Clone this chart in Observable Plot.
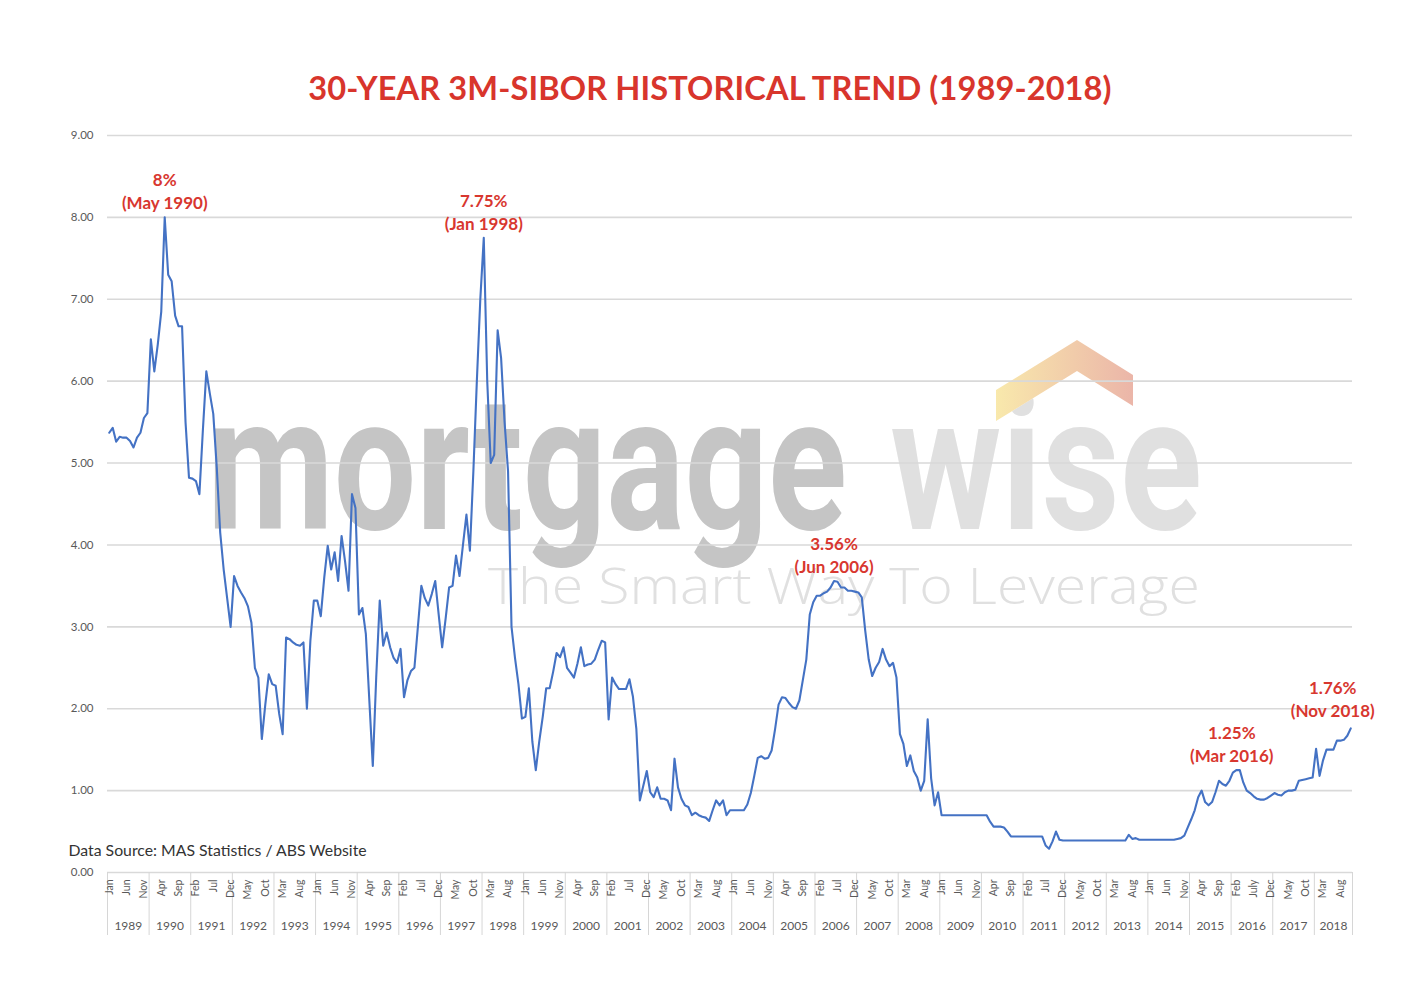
<!DOCTYPE html>
<html>
<head>
<meta charset="utf-8">
<script src="https://cdn.jsdelivr.net/npm/d3@7"></script>
<script src="https://cdn.jsdelivr.net/npm/@observablehq/plot@0.6"></script>
<style>
  html, body { margin: 0; padding: 0; background: #ffffff; }
  #wrap { width: 1420px; height: 986px; position: relative; overflow: hidden; background: #fff; }
  #title { height: 50px; padding-top: 68px; line-height: 40px; text-align: center;
           font-family: Lato, "Open Sans", sans-serif; font-weight: 700; font-size: 32.6px;
           color: #d8352c; letter-spacing: 0.1px; }
</style>
</head>
<body>
<div id="wrap">
  <div id="title">30-YEAR 3M-SIBOR HISTORICAL TREND (1989-2018)</div>
  <div id="chart"></div>
</div>
<script>
// ---------------- data ----------------
const startYear = 1989;
const years = d3.range(1989, 2019);
const monthAbbr = ["Jan","Feb","Mar","Apr","May","Jun","Jul","Aug","Sep","Oct","Nov","Dec"];
const monthLabelOverrides = {330: "July"}; // Jul 2016 is spelled "July" in the source
const yTicks = [0, 1, 2, 3, 4, 5, 6, 7, 8, 9];
const dataSource = ["Data Source: MAS Statistics / ABS Website"];

// monthly 3M-SIBOR (%), Jan 1989 - Nov 2018
const sibor = [
  5.37, 5.43, 5.26, 5.32, 5.31, 5.31, 5.27, 5.19, 5.31, 5.37, 5.55, 5.61, // 1989
  6.51, 6.12, 6.45, 6.85, 8.00, 7.30, 7.22, 6.80, 6.67, 6.67, 5.50, 4.82, // 1990
  4.81, 4.78, 4.62, 5.40, 6.12, 5.85, 5.60, 4.95, 4.15, 3.70, 3.35, 3.00, // 1991
  3.62, 3.50, 3.42, 3.35, 3.25, 3.05, 2.50, 2.38, 1.63, 2.05, 2.42, 2.30, // 1992
  2.28, 1.94, 1.69, 2.87, 2.85, 2.81, 2.78, 2.77, 2.81, 2.00, 2.83, 3.32, // 1993
  3.32, 3.13, 3.60, 3.99, 3.70, 3.91, 3.56, 4.11, 3.80, 3.44, 4.62, 4.45, // 1994
  3.15, 3.23, 2.91, 2.10, 1.30, 2.40, 3.32, 2.77, 2.93, 2.75, 2.62, 2.56, // 1995
  2.73, 2.14, 2.35, 2.46, 2.50, 3.00, 3.50, 3.35, 3.26, 3.40, 3.56, 3.15, // 1996
  2.75, 3.10, 3.48, 3.50, 3.87, 3.62, 4.00, 4.37, 3.93, 4.90, 6.00, 7.00, // 1997
  7.75, 6.00, 5.00, 5.10, 6.62, 6.28, 5.50, 4.90, 3.00, 2.62, 2.30, 1.88, // 1998
  1.90, 2.25, 1.60, 1.25, 1.60, 1.90, 2.25, 2.25, 2.45, 2.68, 2.63, 2.75, // 1999
  2.50, 2.44, 2.38, 2.55, 2.75, 2.52, 2.54, 2.55, 2.60, 2.72, 2.83, 2.81, // 2000
  1.87, 2.38, 2.30, 2.24, 2.24, 2.24, 2.36, 2.15, 1.75, 0.88, 1.06, 1.24, // 2001
  0.98, 0.92, 1.04, 0.90, 0.90, 0.88, 0.76, 1.39, 1.04, 0.90, 0.82, 0.80, // 2002
  0.70, 0.73, 0.70, 0.68, 0.67, 0.63, 0.76, 0.88, 0.82, 0.88, 0.70, 0.76, // 2003
  0.76, 0.76, 0.76, 0.76, 0.83, 0.97, 1.18, 1.40, 1.42, 1.39, 1.40, 1.49, // 2004
  1.75, 2.05, 2.14, 2.13, 2.07, 2.02, 2.00, 2.10, 2.35, 2.60, 3.15, 3.30, // 2005
  3.38, 3.38, 3.41, 3.43, 3.48, 3.56, 3.55, 3.48, 3.48, 3.44, 3.44, 3.43, // 2006
  3.42, 3.36, 2.95, 2.60, 2.40, 2.50, 2.57, 2.73, 2.60, 2.52, 2.56, 2.38, // 2007
  1.69, 1.57, 1.30, 1.43, 1.24, 1.16, 1.00, 1.12, 1.87, 1.15, 0.82, 0.98, // 2008
  0.70, 0.70, 0.70, 0.70, 0.70, 0.70, 0.70, 0.70, 0.70, 0.70, 0.70, 0.70, // 2009
  0.70, 0.70, 0.62, 0.56, 0.56, 0.56, 0.55, 0.50, 0.44, 0.44, 0.44, 0.44, // 2010
  0.44, 0.44, 0.44, 0.44, 0.44, 0.44, 0.33, 0.29, 0.38, 0.50, 0.40, 0.39, // 2011
  0.39, 0.39, 0.39, 0.39, 0.39, 0.39, 0.39, 0.39, 0.39, 0.39, 0.39, 0.39, // 2012
  0.39, 0.39, 0.39, 0.39, 0.39, 0.39, 0.46, 0.41, 0.42, 0.40, 0.40, 0.40, // 2013
  0.40, 0.40, 0.40, 0.40, 0.40, 0.40, 0.40, 0.40, 0.41, 0.42, 0.45, 0.55, // 2014
  0.65, 0.76, 0.92, 1.00, 0.86, 0.82, 0.86, 0.98, 1.12, 1.08, 1.06, 1.12, // 2015
  1.22, 1.25, 1.25, 1.10, 1.00, 0.97, 0.93, 0.90, 0.89, 0.89, 0.91, 0.94, // 2016
  0.97, 0.95, 0.94, 0.98, 1.00, 1.00, 1.01, 1.12, 1.13, 1.14, 1.15, 1.16, // 2017
  1.51, 1.18, 1.37, 1.50, 1.50, 1.50, 1.61, 1.61, 1.62, 1.67, 1.76        // 2018 (Jan-Nov)
];

// peak annotations: year, month (1-12), label lines
const annYears  = [1990, 1998, 2006, 2016, 2018];
const annMonths = [5, 1, 6, 3, 11];
const annLabels = ["8%\n(May 1990)", "7.75%\n(Jan 1998)", "3.56%\n(Jun 2006)", "1.25%\n(Mar 2016)", "1.76%\n(Nov 2018)"];

// ---------------- derived tables ----------------
const series = sibor.map((v, i) => ({i, v}));
const n = sibor.length;
const annotations = annYears.map((y, k) => {
  const i = (y - startYear) * 12 + annMonths[k] - 1;
  return {i, v: sibor[i], label: annLabels[k], k};
});
const monthTicks = d3.range(0, n, 5);
const monthLabel = i => monthLabelOverrides[i] ?? monthAbbr[i % 12];
const yearBounds = years.map((y, k) => k * 12 - 0.5).concat([n - 0.5]);
const yearCenters = years.map((y, k) => (k * 12 - 0.5 + Math.min((k + 1) * 12, n) - 0.5) / 2);

const red = "#d8372f";
const grey = "#595959";

// decorative "mortgage wise" watermark behind the chart
function watermark() {
  const g = d3.create("svg:g").attr("pointer-events", "none").attr("text-anchor", "start");
  const defs = g.append("defs");
  const grad = defs.append("linearGradient").attr("id", "roofGrad").attr("x1", "0%").attr("x2", "100%");
  grad.append("stop").attr("offset", "0%").attr("stop-color", "#f7e397");
  grad.append("stop").attr("offset", "100%").attr("stop-color", "#e6a393");
  g.append("text").text("mortgage")
    .attr("x", 207).attr("y", 411).attr("text-anchor", "start")
    .attr("textLength", 640).attr("lengthAdjust", "spacingAndGlyphs")
    .attr("font-family", "Roboto, 'Liberation Sans', sans-serif").attr("font-weight", 700)
    .attr("font-size", 190).attr("fill", "#c5c5c5");
  g.append("text").text("wise")
    .attr("x", 890).attr("y", 411).attr("text-anchor", "start")
    .attr("textLength", 312).attr("lengthAdjust", "spacingAndGlyphs")
    .attr("font-family", "Roboto, 'Liberation Sans', sans-serif").attr("font-weight", 700)
    .attr("font-size", 190).attr("fill", "#e0e0e0");
  g.append("text").text("The Smart Way To Leverage")
    .attr("x", 488).attr("y", 486).attr("text-anchor", "start")
    .attr("textLength", 712).attr("lengthAdjust", "spacingAndGlyphs")
    .attr("font-family", "'Open Sans', Lato, sans-serif").attr("font-weight", 300)
    .attr("font-size", 50).attr("fill", "#e0e0e0");
  // white backing so the roof hides the dot of the "i", then the roof itself
  g.append("path")
    .attr("d", "M996,303 L996,272 L1077,222 L1133,257 L1133,288 L1077,253 Z")
    .attr("fill", "#ffffff");
  g.append("path")
    .attr("d", "M996,303 L996,272 L1077,222 L1133,257 L1133,288 L1077,253 Z")
    .attr("fill", "url(#roofGrad)").attr("opacity", 0.8);
  return g.node();
}

const annStyle = {x: "i", y: "v", text: "label", lineAnchor: "bottom",
                  fill: red, fontSize: 17, fontWeight: 700, lineHeight: 1.36};

const chart = Plot.plot({
  width: 1420,
  height: 822,
  marginTop: 17,
  marginBottom: 68,
  marginLeft: 107,
  marginRight: 68,
  style: {fontFamily: "Lato, 'Open Sans', sans-serif", background: "transparent", overflow: "visible"},
  x: {type: "linear", domain: [-0.5, n - 0.5]},
  y: {type: "linear", domain: [0, 9]},
  marks: [
    watermark,
    Plot.gridY(yTicks, {stroke: "#d9d9d9", strokeOpacity: 1, strokeWidth: 1.6}),
    Plot.axisY(yTicks, {tickSize: 0, tickPadding: 14, tickFormat: d => d.toFixed(2),
                        fontSize: 11.5, fill: grey, label: null}),
    Plot.axisX(yearBounds, {tickSize: 63, stroke: "#d6d6d6", strokeOpacity: 1, tickFormat: () => "", label: null}),
    Plot.axisX(monthTicks, {tickSize: 0, tickPadding: 7, tickRotate: -90, tickFormat: monthLabel,
                            fontSize: 10.5, fill: grey, label: null}),
    Plot.axisX(yearCenters, {tickSize: 0, tickPadding: 49, tickFormat: (d, k) => String(years[k]),
                             fontSize: 12, fill: grey, label: null}),
    Plot.lineY(series, {x: "i", y: "v", stroke: "#4472c4", strokeWidth: 2.1, strokeLinejoin: "round"}),
    Plot.text(annotations.filter(d => d.k < 3), {...annStyle, dy: -8}),
    Plot.text(annotations.filter(d => d.k === 3), {...annStyle, dy: -8, dx: -8}),
    Plot.text(annotations.filter(d => d.k === 4), {...annStyle, dy: -11, dx: -18}),
    Plot.text(dataSource, {frameAnchor: "bottom-left", dx: -39, dy: -22, textAnchor: "start",
      lineAnchor: "middle", fill: "#333333", fontSize: 15.8})
  ]
});
document.getElementById("chart").appendChild(chart);
</script>
</body>
</html>
